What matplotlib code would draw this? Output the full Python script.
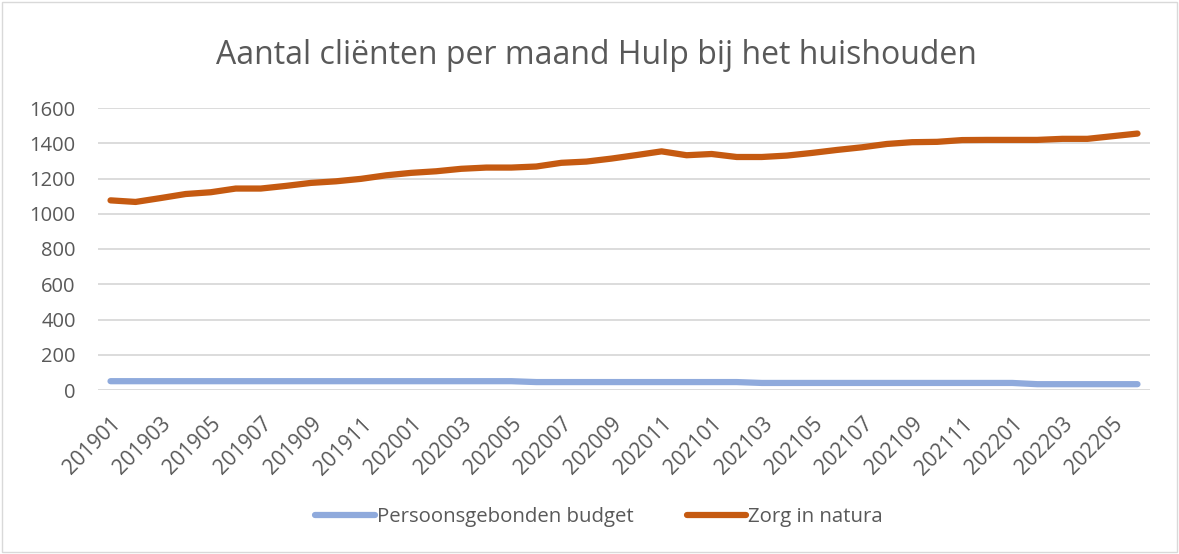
import numpy as np
import matplotlib
matplotlib.use("Agg")
import matplotlib.pyplot as plt
from matplotlib.patches import Rectangle

plt.rcParams['font.family'] = ['Open Sans', 'DejaVu Sans']

# months 201901 .. 202206
months = [f"{y}{m:02d}" for y in (2019, 2020, 2021, 2022) for m in range(1, 13)][:42]

pgb = [50, 50, 50, 50, 50, 50, 50, 50, 50, 50,
       50, 50, 50, 50, 50, 50, 50, 45, 45, 45,
       45, 45, 45, 45, 45, 45, 40, 40, 40, 40,
       40, 40, 40, 40, 40, 40, 40, 33, 33, 33,
       33, 33]
zin = [1076, 1067, 1089, 1112, 1122, 1143, 1143, 1158, 1175, 1184,
       1198, 1218, 1232, 1241, 1255, 1262, 1262, 1268, 1289, 1296,
       1313, 1333, 1354, 1332, 1339, 1322, 1322, 1330, 1345, 1362,
       1377, 1396, 1406, 1408, 1418, 1419, 1419, 1419, 1425, 1425,
       1440, 1455]

grey = '#595959'

fig = plt.figure(figsize=(11.79, 5.54), dpi=100)
ax = fig.add_axes([98 / 1179, 1 - 390 / 554, (1150 - 98) / 1179, (390 - 108) / 554])

x = np.arange(len(months))
ax.plot(x, pgb, color='#8FAADC', lw=4.5, solid_capstyle='round', label='Persoonsgebonden budget')
ax.plot(x, zin, color='#C55A11', lw=4.5, solid_capstyle='round', label='Zorg in natura')

ax.set_xlim(-0.5, len(months) - 0.5)
ax.set_ylim(0, 1600)
ax.set_yticks(np.arange(0, 1601, 200))
ax.set_xticks(x[::2])
ax.set_xticklabels(months[::2])
plt.setp(ax.get_xticklabels(), rotation=45, ha='right', rotation_mode='anchor')

ax.grid(axis='y', color='#D9D9D9', lw=1.3)
ax.set_axisbelow(True)
for s in ax.spines.values():
    s.set_visible(False)
ax.tick_params(length=0, colors=grey)
ax.tick_params(axis='y', pad=16, labelsize=14.5)
ax.tick_params(axis='x', pad=17, labelsize=15)

fig.text(0.506, 1 - 56 / 554, 'Aantal cliënten per maand Hulp bij het huishouden',
         ha='center', va='center', fontsize=23, color=grey)

fig.legend(loc='center', bbox_to_anchor=(0.508, 1 - 517 / 554), ncol=2, frameon=False,
           fontsize=14.7, labelcolor=grey, handlelength=2.9, handletextpad=0.1,
           columnspacing=2.6)

fig.patches.append(Rectangle((2 / 1179, 2 / 554), 1 - 4 / 1179, 1 - 4 / 554,
                             transform=fig.transFigure, fill=False,
                             edgecolor='#D9D9D9', lw=1))

fig.savefig('out.png', dpi=100)
